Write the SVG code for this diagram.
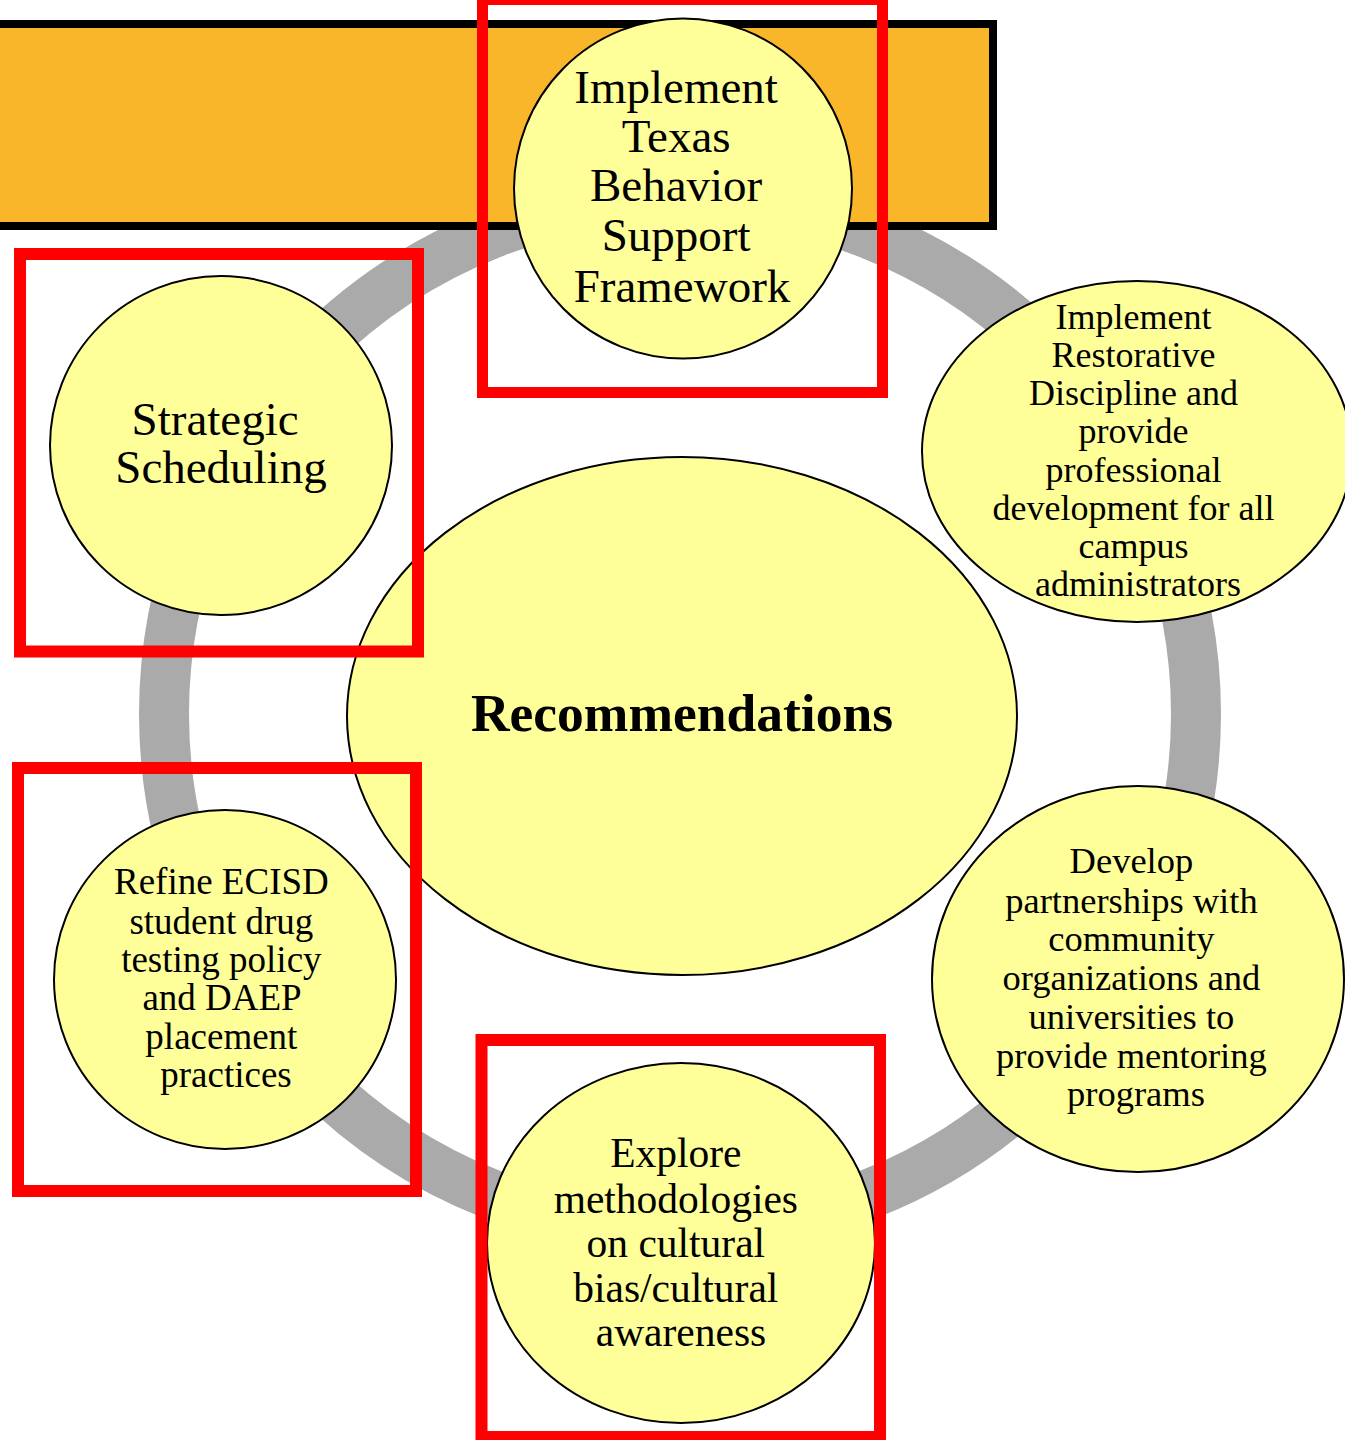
<svg xmlns="http://www.w3.org/2000/svg" width="1345" height="1440" viewBox="0 0 1345 1440">
<style>
.node{fill:#FFFF99;stroke:#000;stroke-width:2}
.t{font-family:"Liberation Serif","Times New Roman",serif;fill:#000;text-anchor:middle}
.hl{fill:none;stroke:#FF0000}
</style>
<rect width="1345" height="1440" fill="#fff"/>
<g id="connectors">
<circle cx="680" cy="714" r="516" fill="none" stroke="#AAAAAA" stroke-width="50"/>
</g>
<g id="banner">
<rect x="-10" y="24" width="1003" height="202" fill="#FAB62A" stroke="#000" stroke-width="8"/>
</g>
<g id="center">
<ellipse class="node" cx="682" cy="716" rx="335" ry="259"/>
<text class="t" x="682" y="731" font-size="53.5" font-weight="bold">Recommendations</text>
</g>
<g id="n-top">
<ellipse class="node" cx="683" cy="188.5" rx="169" ry="170"/>
<text class="t" font-size="47">
<tspan x="682" y="103">Implement</tspan>
<tspan x="682" y="152">Texas</tspan>
<tspan x="682" y="201">Behavior</tspan>
<tspan x="682" y="251">Support</tspan>
<tspan x="682" y="302">Framework</tspan>
</text>
</g>
<g id="n-right-top">
<ellipse class="node" cx="1137" cy="451.5" rx="215" ry="170.5"/>
<text class="t" font-size="36">
<tspan x="1138" y="329">Implement</tspan>
<tspan x="1138" y="367">Restorative</tspan>
<tspan x="1138" y="405">Discipline  and</tspan>
<tspan x="1138" y="443">provide</tspan>
<tspan x="1138" y="482">professional</tspan>
<tspan x="1138" y="520">development for all</tspan>
<tspan x="1138" y="558">campus</tspan>
<tspan x="1138" y="596">administrators</tspan>
</text>
</g>
<g id="n-right-bottom">
<ellipse class="node" cx="1138" cy="979" rx="206" ry="193"/>
<text class="t" font-size="36.5">
<tspan x="1136" y="873">Develop</tspan>
<tspan x="1136" y="913">partnerships with</tspan>
<tspan x="1136" y="951">community</tspan>
<tspan x="1136" y="990">organizations  and</tspan>
<tspan x="1136" y="1029">universities   to</tspan>
<tspan x="1136" y="1068">provide mentoring</tspan>
<tspan x="1136" y="1106">programs</tspan>
</text>
</g>
<g id="n-bottom">
<ellipse class="node" cx="681" cy="1243" rx="194" ry="180"/>
<text class="t" font-size="41.5">
<tspan x="681" y="1167">Explore</tspan>
<tspan x="681" y="1213">methodologies</tspan>
<tspan x="681" y="1257">on cultural</tspan>
<tspan x="681" y="1302">bias/cultural</tspan>
<tspan x="681" y="1346">awareness</tspan>
</text>
</g>
<g id="n-left-bottom">
<ellipse class="node" cx="225" cy="979.5" rx="171" ry="169.5"/>
<text class="t" font-size="37">
<tspan x="226" y="894">Refine ECISD</tspan>
<tspan x="226" y="934">student drug</tspan>
<tspan x="226" y="972">testing policy</tspan>
<tspan x="226" y="1010">and DAEP</tspan>
<tspan x="226" y="1049">placement</tspan>
<tspan x="226" y="1087">practices</tspan>
</text>
</g>
<g id="n-left-top">
<ellipse class="node" cx="221" cy="445.5" rx="171" ry="169.5"/>
<text class="t" font-size="47">
<tspan x="221" y="435">Strategic</tspan>
<tspan x="221" y="483">Scheduling</tspan>
</text>
</g>
<g id="highlights">
<rect class="hl" x="482.5" y="-0.5" width="400" height="393" stroke-width="11"/>
<rect class="hl" x="20" y="254" width="398" height="397.5" stroke-width="12"/>
<rect class="hl" x="18" y="768" width="398" height="423" stroke-width="12"/>
<rect class="hl" x="481.5" y="1040" width="398.5" height="397" stroke-width="12"/>
</g>
</svg>
